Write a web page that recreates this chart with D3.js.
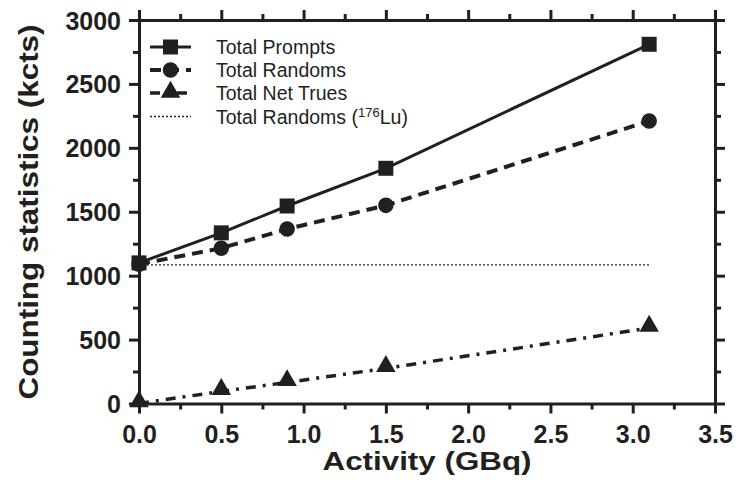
<!DOCTYPE html>
<html>
<head>
<meta charset="utf-8">
<script src="https://cdn.jsdelivr.net/npm/d3@7"></script>
<style>
  body { margin: 0; background: #fff; }
  svg { display: block; font-family: "Liberation Sans", Arial, sans-serif; }
  .axis path, .axis line { stroke: #231f20; stroke-width: 3; }
  .axis path { stroke-linecap: square; }
  .axis text { font-family: "Liberation Sans", Arial, sans-serif; font-size: 25px; font-weight: bold; fill: #231f20; }
</style>
</head>
<body>
<div id="chart"></div>
<script>
// data
const activity = [0, 0.5, 0.9, 1.5, 3.1];
const prompts = [1100, 1335, 1545, 1840, 2810];
const randoms = [1090, 1215, 1365, 1550, 2210];
const netTrues = [0, 95, 165, 275, 590];
const luRandoms = 1085;
const xTicks = [0, 0.5, 1, 1.5, 2, 2.5, 3, 3.5];
const yTicks = [0, 500, 1000, 1500, 2000, 2500, 3000];
const legendLabels = ['Total Prompts', 'Total Randoms', 'Total Net Trues', 'Total Randoms ('];

const width = 741, height = 497;
const ink = '#231f20';

const svg = d3.select('#chart')
  .append('svg')
  .attr('width', width)
  .attr('height', height);

const x = d3.scaleLinear().domain([0, 3.5]).range([139, 715]);
const y = d3.scaleLinear().domain([0, 3000]).range([403.5, 20]);

const xMinor = d3.range(0, 3.51, 0.25).filter(v => !xTicks.includes(v));
const yMinor = d3.range(0, 3001, 250).filter(v => !yTicks.includes(v));

// minor ticks first, then major axes on top
const minor = (axis, scale, vals, size, tr) => svg.append('g')
  .attr('class', 'axis')
  .attr('transform', tr)
  .call(axis(scale).tickValues(vals).tickSize(size).tickSizeOuter(0).tickFormat(''))
  .call(g => g.select('.domain').remove());

minor(d3.axisBottom, x, xMinor, 6, `translate(0,${y(0)})`);
minor(d3.axisTop, x, xMinor, 6, `translate(0,${y(3000)})`);
minor(d3.axisLeft, y, yMinor, 6, `translate(${x(0)},0)`);
minor(d3.axisRight, y, yMinor, 6, `translate(${x(3.5)},0)`);

svg.append('g')
  .attr('class', 'axis')
  .attr('transform', `translate(0,${y(0)})`)
  .call(d3.axisBottom(x).tickValues(xTicks).tickSize(10).tickSizeOuter(0).tickPadding(12).tickFormat(d3.format('.1f')));

svg.append('g')
  .attr('class', 'axis')
  .attr('transform', `translate(0,${y(3000)})`)
  .call(d3.axisTop(x).tickValues(xTicks).tickSize(10).tickSizeOuter(0).tickFormat(''));

svg.append('g')
  .attr('class', 'axis')
  .attr('transform', `translate(${x(0)},0)`)
  .call(d3.axisLeft(y).tickValues(yTicks).tickSize(10).tickSizeOuter(0).tickPadding(8).tickFormat(d3.format('d')))
  .call(g => g.selectAll('text').attr('dy', '0.36em'));

svg.append('g')
  .attr('class', 'axis')
  .attr('transform', `translate(${x(3.5)},0)`)
  .call(d3.axisRight(y).tickValues(yTicks).tickSize(10).tickSizeOuter(0).tickFormat(''));

// axis titles
svg.append('text')
  .attr('x', (x(0) + x(3.5)) / 2)
  .attr('y', 470)
  .attr('text-anchor', 'middle')
  .attr('font-size', 25)
  .attr('font-weight', 'bold')
  .attr('fill', ink)
  .attr('textLength', 209)
  .attr('lengthAdjust', 'spacingAndGlyphs')
  .text('Activity (GBq)');

svg.append('text')
  .attr('transform', `translate(38,212) rotate(-90)`)
  .attr('text-anchor', 'middle')
  .attr('font-size', 28)
  .attr('font-weight', 'bold')
  .attr('fill', ink)
  .attr('textLength', 375)
  .attr('lengthAdjust', 'spacingAndGlyphs')
  .text('Counting statistics (kcts)');

// series
const series = [
  {values: prompts, dash: null, width: 3, marker: 'square'},
  {values: randoms, dash: '11,7', width: 4, marker: 'circle'},
  {values: netTrues, dash: '10,7,3,7', width: 3.5, marker: 'triangle'}
];

const symbolFor = m => m === 'square' ? d3.symbol(d3.symbolSquare, 225)
  : m === 'circle' ? d3.symbol(d3.symbolCircle, 190)
  : d3.symbol(d3.symbolTriangle, 165);

const line = d3.line()
  .x((d, i) => x(activity[i]))
  .y(d => y(d));

// 176Lu randoms, thin dotted
svg.append('line')
  .attr('x1', x(activity[0]))
  .attr('x2', x(activity[activity.length - 1]))
  .attr('y1', y(luRandoms))
  .attr('y2', y(luRandoms))
  .attr('stroke', ink)
  .attr('stroke-width', 1.3)
  .attr('stroke-dasharray', '2,2');

series.forEach(s => {
  svg.append('path')
    .datum(s.values)
    .attr('d', line)
    .attr('fill', 'none')
    .attr('stroke', ink)
    .attr('stroke-width', s.width)
    .attr('stroke-dasharray', s.dash);
  svg.append('g')
    .selectAll('path')
    .data(s.values)
    .join('path')
    .attr('transform', (d, i) => `translate(${x(activity[i])},${y(d) + (s.marker === 'triangle' ? -2 : 0)})`)
    .attr('d', symbolFor(s.marker))
    .attr('fill', ink);
});

// legend
const legend = svg.append('g');
const rows = [47, 70, 93, 116.5];
series.forEach((s, i) => {
  legend.append('line')
    .attr('x1', 150).attr('x2', 191)
    .attr('y1', rows[i]).attr('y2', rows[i])
    .attr('stroke', ink)
    .attr('stroke-width', s.width)
    .attr('stroke-dasharray', s.dash);
  legend.append('path')
    .attr('transform', `translate(170.5,${rows[i] + (s.marker === 'triangle' ? -1 : 0)})`)
    .attr('d', symbolFor(s.marker))
    .attr('fill', ink);
});
legend.append('line')
  .attr('x1', 150).attr('x2', 191)
  .attr('y1', rows[3]).attr('y2', rows[3])
  .attr('stroke', ink)
  .attr('stroke-width', 1.3)
  .attr('stroke-dasharray', '2,2');

legendLabels.forEach((t, i) => {
  const txt = legend.append('text')
    .attr('x', 216)
    .attr('y', rows[i] + 7)
    .attr('font-size', 19.5)
    .attr('fill', ink)
    .text(t);
  if (i === 3) {
    txt.append('tspan').attr('font-size', 13).attr('dy', -7).text('176');
    txt.append('tspan').attr('dy', 7).text('Lu)');
  }
});
</script>
</body>
</html>
